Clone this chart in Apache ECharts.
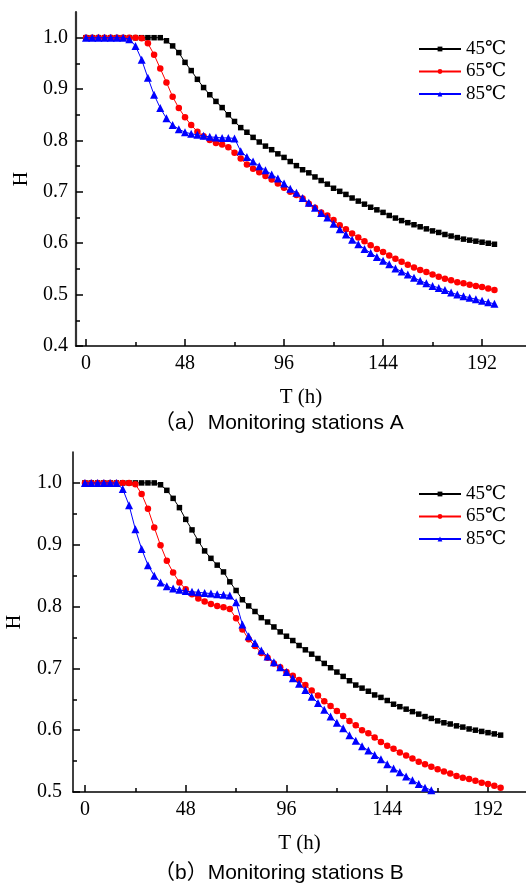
<!DOCTYPE html>
<html>
<head>
<meta charset="utf-8">
<script src="https://cdn.jsdelivr.net/npm/echarts@6/dist/echarts.min.js"></script>
<style>
  html, body { margin: 0; padding: 0; background: #fff; }
  #chart { width: 526px; height: 885px; }
</style>
</head>
<body>
<div id="chart"></div>
<script>
// time grid (h), one sample every 3 h
var hours = [];
for (var i = 0; i < 67; i++) hours.push(i * 3);

var majorX = [0, 48, 96, 144, 192];
var minorX = [24, 72, 120, 168];
var majorYA = [0.4, 0.5, 0.6, 0.7, 0.8, 0.9, 1.0];
var minorYA = [0.45, 0.55, 0.65, 0.75, 0.85, 0.95];
var majorYB = [0.5, 0.6, 0.7, 0.8, 0.9, 1.0];
var minorYB = [0.55, 0.65, 0.75, 0.85, 0.95];

var names = ['45℃', '65℃', '85℃'];

// (a) station A
var a45 = [1, 1, 1, 1, 1, 1, 1, 1, 1, 1, 1, 1, 1, 0.994, 0.984, 0.971, 0.952, 0.936, 0.919, 0.903,
    0.889, 0.876, 0.864, 0.850, 0.837, 0.825, 0.816, 0.806, 0.797, 0.789, 0.782, 0.774, 0.767, 0.759,
    0.751, 0.743, 0.737, 0.729, 0.722, 0.715, 0.707, 0.701, 0.695, 0.688, 0.682, 0.676, 0.670, 0.665,
    0.660, 0.654, 0.649, 0.644, 0.640, 0.636, 0.632, 0.628, 0.624, 0.621, 0.617, 0.614, 0.611, 0.608,
    0.606, 0.604, 0.602, 0.600, 0.598];
var a65 = [1, 1, 1, 1, 1, 1, 1, 1, 1, 0.999, 0.989, 0.967, 0.940, 0.913, 0.885, 0.863, 0.845, 0.830,
    0.817, 0.808, 0.801, 0.795, 0.792, 0.787, 0.776, 0.765, 0.753, 0.745, 0.738, 0.731, 0.724, 0.716,
    0.708, 0.700, 0.694, 0.687, 0.677, 0.669, 0.660, 0.654, 0.645, 0.635, 0.627, 0.619, 0.611, 0.604,
    0.596, 0.589, 0.583, 0.576, 0.570, 0.564, 0.558, 0.553, 0.548, 0.544, 0.539, 0.535, 0.531, 0.528,
    0.524, 0.522, 0.519, 0.517, 0.515, 0.512, 0.509];
var a85 = [1, 1, 1, 1, 1, 1, 1, 0.997, 0.984, 0.957, 0.922, 0.889, 0.863, 0.843, 0.830, 0.822, 0.816,
    0.813, 0.811, 0.809, 0.807, 0.806, 0.805, 0.805, 0.804, 0.779, 0.768, 0.759, 0.750, 0.742, 0.734,
    0.726, 0.716, 0.706, 0.698, 0.688, 0.679, 0.669, 0.659, 0.650, 0.638, 0.627, 0.617, 0.607, 0.598,
    0.589, 0.581, 0.573, 0.566, 0.559, 0.551, 0.545, 0.539, 0.533, 0.527, 0.522, 0.517, 0.513, 0.509,
    0.504, 0.500, 0.497, 0.494, 0.491, 0.488, 0.485, 0.482];

// (b) station B
var b45 = [1, 1, 1, 1, 1, 1, 1, 1, 1, 1, 1, 1, 0.997, 0.988, 0.975, 0.960, 0.941, 0.924, 0.906, 0.890,
    0.878, 0.867, 0.856, 0.840, 0.826, 0.811, 0.801, 0.792, 0.782, 0.775, 0.767, 0.759, 0.752, 0.745,
    0.737, 0.730, 0.723, 0.716, 0.708, 0.701, 0.694, 0.687, 0.680, 0.673, 0.668, 0.663, 0.657, 0.653,
    0.648, 0.642, 0.638, 0.634, 0.630, 0.626, 0.622, 0.619, 0.615, 0.612, 0.610, 0.607, 0.605, 0.602,
    0.600, 0.598, 0.596, 0.594, 0.592];
var b65 = [1, 1, 1, 1, 1, 1, 1, 1, 0.998, 0.982, 0.958, 0.928, 0.899, 0.874, 0.855, 0.839, 0.828, 0.820,
    0.813, 0.808, 0.804, 0.801, 0.799, 0.796, 0.781, 0.763, 0.747, 0.736, 0.725, 0.717, 0.708, 0.702,
    0.694, 0.688, 0.681, 0.673, 0.664, 0.656, 0.647, 0.639, 0.631, 0.623, 0.615, 0.608, 0.600, 0.595,
    0.588, 0.581, 0.575, 0.570, 0.564, 0.559, 0.554, 0.549, 0.545, 0.541, 0.537, 0.533, 0.530, 0.526,
    0.523, 0.521, 0.518, 0.515, 0.513, 0.510, 0.507];
var b85 = [1, 1, 1, 1, 1, 1, 0.990, 0.964, 0.925, 0.893, 0.867, 0.850, 0.839, 0.833, 0.829, 0.827, 0.825,
    0.824, 0.823, 0.822, 0.821, 0.820, 0.819, 0.818, 0.807, 0.771, 0.752, 0.741, 0.729, 0.719, 0.710,
    0.702, 0.694, 0.684, 0.675, 0.665, 0.654, 0.644, 0.633, 0.622, 0.612, 0.603, 0.592, 0.583, 0.574,
    0.567, 0.560, 0.553, 0.545, 0.538, 0.532, 0.525, 0.519, 0.513, 0.507, 0.503, 0.499, 0.494];

var serif = "'Liberation Serif', 'DejaVu Serif', 'Noto Sans CJK SC', serif";
var sans = "'Liberation Sans', 'Noto Sans CJK SC', sans-serif";

function pts(vals) {
    return vals.map(function (v, i) { return [hours[i], v]; });
}

var styles = [
    { color: '#000000', symbol: 'rect', size: 5.5 },
    { color: '#ff0000', symbol: 'circle', size: 6.5 },
    { color: '#0000ff', symbol: 'triangle', size: 8 }
];

function makeSeries(k, vals, gi) {
    var s = styles[k];
    return {
        name: names[k],
        type: 'line',
        xAxisIndex: gi * 2,
        yAxisIndex: gi * 2,
        data: pts(vals),
        symbol: s.symbol,
        symbolSize: s.size,
        showAllSymbol: true,
        clip: true,
        lineStyle: { color: s.color, width: 1 },
        itemStyle: { color: s.color },
        emphasis: { disabled: true },
        z: 3 + k
    };
}

function xAxes(gi, min, max) {
    return [{
        gridIndex: gi, type: 'value', position: 'bottom', min: min, max: max,
        name: 'T (h)', nameLocation: 'middle', nameGap: 41,
        nameTextStyle: { fontFamily: serif, fontSize: 21, color: '#000' },
        axisLine: { onZero: false, lineStyle: { color: '#000', width: 1.5 } },
        axisTick: { inside: true, length: 7, customValues: majorX, lineStyle: { color: '#000', width: 1.5 } },
        axisLabel: { customValues: majorX, margin: 8, fontFamily: serif, fontSize: 20, color: '#000' },
        splitLine: { show: false }
    }, {
        gridIndex: gi, type: 'value', position: 'bottom', min: min, max: max,
        axisLine: { show: false, onZero: false },
        axisTick: { inside: true, length: 4, customValues: minorX, lineStyle: { color: '#000', width: 1.5 } },
        axisLabel: { show: false },
        splitLine: { show: false }
    }];
}

function yAxes(gi, min, major, minor, lineColor, lineWidth, margin, gap) {
    return [{
        gridIndex: gi, type: 'value', position: 'left', min: min, max: 1.05,
        name: 'H', nameLocation: 'middle', nameGap: gap, nameRotate: 90,
        nameTextStyle: { fontFamily: serif, fontSize: 20, color: '#000' },
        axisLine: { onZero: false, lineStyle: { color: lineColor, width: lineWidth } },
        axisTick: { inside: true, length: 7, customValues: major, lineStyle: { color: '#000', width: 1.5 } },
        axisLabel: {
            customValues: major, margin: margin, fontFamily: serif, fontSize: 20, color: '#000',
            formatter: function (v) { return v.toFixed(1); }
        },
        splitLine: { show: false }
    }, {
        gridIndex: gi, type: 'value', position: 'left', min: min, max: 1.05,
        axisLine: { show: false, onZero: false },
        axisTick: { inside: true, length: 4, customValues: minor, lineStyle: { color: '#000', width: 1.5 } },
        axisLabel: { show: false },
        splitLine: { show: false }
    }];
}

function legendAt(top) {
    return {
        orient: 'vertical', left: 413, top: top,
        data: names,
        itemWidth: 42, itemHeight: 6, itemGap: 2.5,
        selectedMode: false,
        textStyle: { fontFamily: serif, fontSize: 19, color: '#000', lineHeight: 20 }
    };
}

var chart = echarts.init(document.getElementById('chart'));
chart.setOption({
    animation: false,
    backgroundColor: '#fff',
    title: [
        { text: '（a）Monitoring stations A', left: 154, top: 413, padding: 0,
          textStyle: { fontFamily: sans, fontSize: 21, fontWeight: 'normal', color: '#000' } },
        { text: '（b）Monitoring stations B', left: 154, top: 863, padding: 0,
          textStyle: { fontFamily: sans, fontSize: 21, fontWeight: 'normal', color: '#000' } }
    ],
    legend: [legendAt(34), legendAt(479)],
    grid: [
        { left: 76, top: 12, width: 450, height: 334, containLabel: false, outerBoundsMode: 'none' },
        { left: 73, top: 452, width: 453, height: 340, containLabel: false, outerBoundsMode: 'none' }
    ],
    xAxis: xAxes(0, -4.85, 213.3).concat(xAxes(1, -5.7, 210.1)),
    yAxis: yAxes(0, 0.4, majorYA, minorYA, '#333', 2.2, 8, 40)
        .concat(yAxes(1, 0.5, majorYB, minorYB, '#000', 1.5, 11, 48)),
    series: [
        makeSeries(0, a45, 0), makeSeries(1, a65, 0), makeSeries(2, a85, 0),
        makeSeries(0, b45, 1), makeSeries(1, b65, 1), makeSeries(2, b85, 1)
    ]
});
</script>
</body>
</html>
